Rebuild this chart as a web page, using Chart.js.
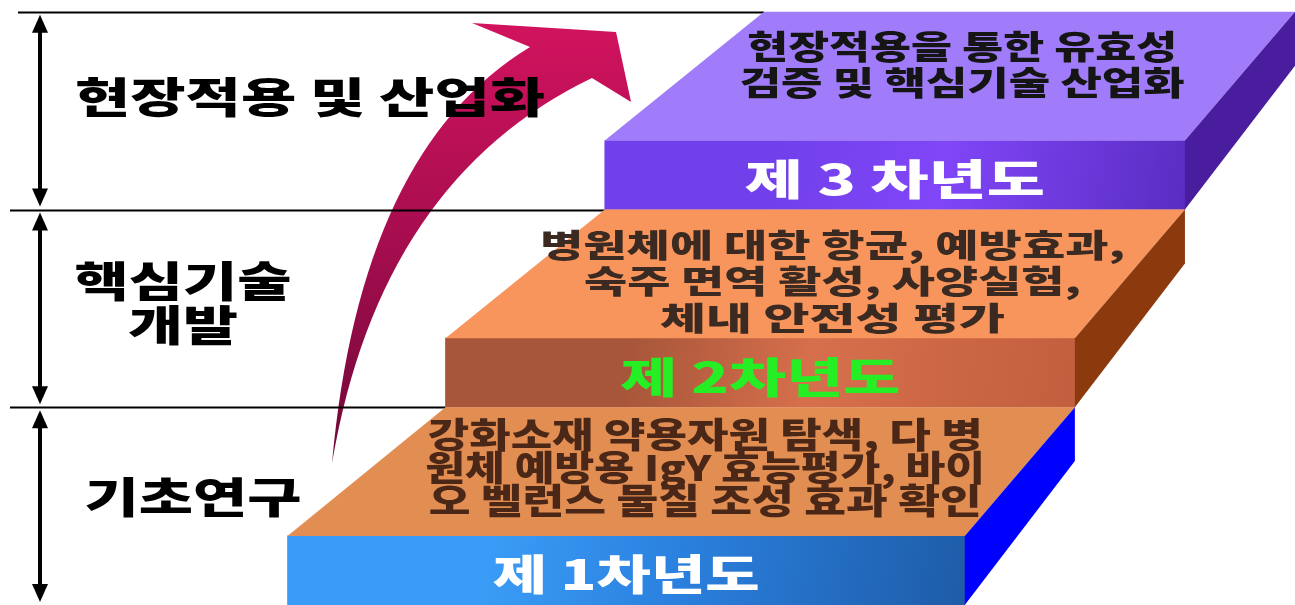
<!DOCTYPE html>
<html>
<head>
<meta charset="utf-8">
<script src="https://cdn.jsdelivr.net/npm/chart.js@4"></script>
<style>
  html, body { margin: 0; padding: 0; background: #fff; }
  #wrap { width: 1295px; height: 605px; }
</style>
</head>
<body>
<div id="wrap"><canvas id="grafico" width="1295" height="605"></canvas></div>
<script>
// 단계(세로 구간) 이름
var phases = ['기초연구', '핵심기술\n개발', '현장적용 및 산업화'];
// 연차
var years = ['제 1차년도', '제 2차년도', '제 3 차년도'];
// 연차별 연구내용
var tasks = [
    ['강화소재 약용자원 탐색, 다 병', '원체 예방용 IgY 효능평가, 바이', '오 벨런스 물질 조성 효과 확인'],
    ['병원체에 대한 항균, 예방효과,', '숙주 면역 활성, 사양실험,', '체내 안전성 평가'],
    ['현장적용을 통한 유효성', '검증 및 핵심기술 산업화']
];
// 계단 앞면 구간 (가로축 %)
var stepStart = [22.2, 34.4, 46.7];
var stepEnd = [74.5, 83.0, 91.5];

// 앞면 두께 (세로축 단위)
var FRONT = 0.35;
var FONT = '"Noto Sans CJK KR", "Noto Sans", sans-serif';

var colors = [
    { top: '#E28D52', side: '#0000FF', front: ['#1E5CA8', '#2A80DE', '#3A9CF6'] },
    { top: '#F8955C', side: '#8C390D', front: ['#C25F3E', '#D66F4C', '#A8563A'] },
    { top: '#A07CFA', side: '#4A1C9E', front: ['#5A2DC2', '#8046F8', '#7140EA'] }
];

var topText = [
    { color: '#4A2716', gap: 33, dx: 12, dy: -4, size: 35, widths: [555, 560, 553] },
    { color: '#3B2A22', gap: 36.5, dx: 5, dy: 7, size: 32, widths: [585, 497, 345] },
    { color: '#151515', gap: 36, dx: 0, dy: -12, size: 33, widths: [430, 445] }
];
var frontText = [
    { color: '#FFFFFF', width: 267 },
    { color: '#25EE25', width: 280 },
    { color: '#FFFFFF', width: 300 }
];
var phaseText = [
    { cx: 193, cy: [497], widths: [217] },
    { cx: 183, cy: [281, 325], widths: [217, 110] },
    { cx: 310, cy: [97], widths: [470] }
];

// 글자를 지정 폭에 맞춰 가로로 늘려 그림
function fitText(ctx, str, cx, cy, size, width, color) {
    ctx.save();
    ctx.font = '900 ' + size + 'px ' + FONT;
    var w = ctx.measureText(str).width;
    ctx.translate(cx, cy);
    ctx.scale(width / w, 1);
    ctx.textAlign = 'center';
    ctx.textBaseline = 'middle';
    ctx.fillStyle = color;
    ctx.fillText(str, 0, 0);
    ctx.restore();
}

function poly(ctx, pts, fill) {
    ctx.beginPath();
    ctx.moveTo(pts[0][0], pts[0][1]);
    for (var i = 1; i < pts.length; i++) ctx.lineTo(pts[i][0], pts[i][1]);
    ctx.closePath();
    ctx.fillStyle = fill;
    ctx.fill();
}

// 앞면 그라데이션
function frontFill(c) {
    var i = c.dataIndex;
    var chart = c.chart;
    if (i == null || !chart.scales.y || !chart.chartArea) return colors[0].front[1];
    var xs = chart.scales.x, ys = chart.scales.y;
    var l = xs.getPixelForValue(stepStart[i]), r = xs.getPixelForValue(stepEnd[i]);
    var t = ys.getPixelForValue(i + FRONT), b = ys.getPixelForValue(i);
    var g = chart.ctx.createLinearGradient(r, b, l + (r - l) * 0.3, t);
    g.addColorStop(0, colors[i].front[0]);
    g.addColorStop(0.6, colors[i].front[1]);
    g.addColorStop(1, colors[i].front[2]);
    return g;
}

var stairs = {
    id: 'stairs',
    beforeDatasetsDraw: function (chart) {
        var ctx = chart.ctx, xs = chart.scales.x, ys = chart.scales.y;
        var X = function (v) { return xs.getPixelForValue(v); };
        var Y = function (v) { return ys.getPixelForValue(v); };

        // 곡선 화살표
        ctx.save();
        var g = ctx.createLinearGradient(0, Y(0.7), 0, Y(2.95));
        g.addColorStop(0, '#6E0838');
        g.addColorStop(0.5, '#A50D4E');
        g.addColorStop(1, '#D2135E');
        ctx.beginPath();
        ctx.moveTo(X(25.64), Y(0.718));
        ctx.quadraticCurveTo(X(27.8), Y(2.301), X(40.93), Y(2.822));
        ctx.lineTo(X(36.45), Y(2.944));
        ctx.lineTo(X(47.57), Y(2.898));
        ctx.lineTo(X(48.73), Y(2.544));
        ctx.lineTo(X(45.71), Y(2.666));
        ctx.quadraticCurveTo(X(29.34), Y(2.15), X(25.64), Y(0.718));
        ctx.closePath();
        ctx.fillStyle = g;
        ctx.fill();
        ctx.restore();
    },
    afterDatasetsDraw: function (chart) {
        var ctx = chart.ctx, xs = chart.scales.x, ys = chart.scales.y;
        var bars = chart.getDatasetMeta(0).data.map(function (el) {
            return el.getProps(['x', 'y', 'base', 'height'], true);
        });
        var n = bars.length;

        // 각 계단의 윗면 뒤쪽 모서리
        var back = bars.map(function (p, i) {
            if (i < n - 1) return [bars[i + 1].base, bars[i + 1].x];
            return [p.base + (p.base - bars[i - 1].base), p.x + (p.x - bars[i - 1].x)];
        });

        ctx.save();
        // 구간 구분선
        ctx.strokeStyle = '#000';
        ctx.lineWidth = 2;
        for (var k = 1; k <= n; k++) {
            var yl = Math.round(ys.getPixelForValue(k)) + 0.5;
            ctx.beginPath();
            ctx.moveTo(k === n ? 18 : 10, yl);
            ctx.lineTo(back[k - 1][0], yl);
            ctx.stroke();
        }

        bars.forEach(function (p, i) {
            var ft = p.y - p.height / 2, fb = p.y + p.height / 2;
            var yb = ys.getPixelForValue(i + 1);
            var sideH = p.height * 0.78;
            // 윗면
            poly(ctx, [[p.base, ft], [p.x, ft], [back[i][1], yb], [back[i][0], yb]], colors[i].top);
            // 옆면
            poly(ctx, [[p.x, ft], [back[i][1], yb], [back[i][1], yb + sideH], [p.x, fb]], colors[i].side);

            // 윗면 글자
            var st = topText[i];
            var cx = (p.base + p.x + back[i][0] + back[i][1]) / 4 + st.dx;
            var cy = (ft + yb) / 2 + st.dy;
            var lines = tasks[i];
            lines.forEach(function (s, j) {
                var ly = cy + (j - (lines.length - 1) / 2) * st.gap;
                fitText(ctx, s, cx, ly, st.size, st.widths[j], st.color);
            });
            // 앞면 글자
            fitText(ctx, years[i], (p.base + p.x) / 2, p.y + 4, 42, frontText[i].width, frontText[i].color);
        });

        // 왼쪽 양방향 화살표
        var ax = 40;
        ctx.fillStyle = '#000';
        for (var b = 0; b < phases.length; b++) {
            var y0 = ys.getPixelForValue(b + 1) + 3;
            var y1 = Math.min(ys.getPixelForValue(b) - 3, 603);
            ctx.fillRect(ax - 2, y0 + 12, 4, y1 - y0 - 24);
            poly(ctx, [[ax, y0], [ax + 8, y0 + 18], [ax - 8, y0 + 18]], '#000');
            poly(ctx, [[ax, y1], [ax + 8, y1 - 18], [ax - 8, y1 - 18]], '#000');
        }

        // 단계 이름
        phases.forEach(function (name, b) {
            var pt = phaseText[b];
            name.split('\n').forEach(function (s, j) {
                fitText(ctx, s, pt.cx, pt.cy[j], 42, pt.widths[j], '#000');
            });
        });
        ctx.restore();
    }
};

var data = {
    labels: years,
    datasets: [{
        label: '연차',
        data: years.map(function (name, i) {
            return { x: [stepStart[i], stepEnd[i]], y: i + FRONT / 2 };
        }),
        backgroundColor: frontFill,
        borderWidth: 0,
        barThickness: 69
    }]
};

var options = {
    indexAxis: 'y',
    responsive: false,
    animation: false,
    layout: { padding: 0 },
    plugins: { legend: { display: false }, tooltip: { enabled: false } },
    scales: {
        x: { type: 'linear', min: 0, max: 100, offset: false, display: false },
        y: { type: 'linear', min: 0, max: 3.06, offset: false, display: false }
    }
};

var ctx = document.querySelector('#grafico');
new Chart(ctx, { type: 'bar', data: data, options: options, plugins: [stairs] });
</script>
</body>
</html>
